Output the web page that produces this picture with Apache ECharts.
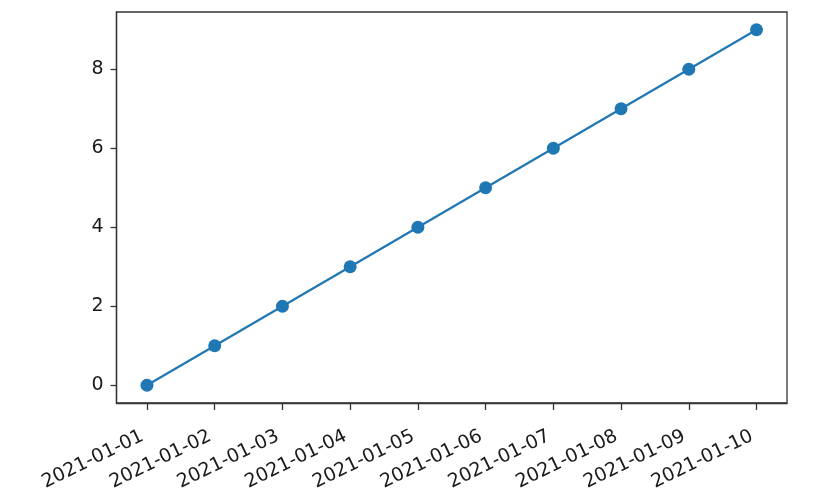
<!DOCTYPE html>
<html>
<head>
<meta charset="utf-8">
<script src="https://cdn.jsdelivr.net/npm/echarts@6/dist/echarts.min.js"></script>
<style>html,body{margin:0;padding:0;background:#fff;}#c{width:818px;height:498px;}</style>
</head>
<body>
<div id="c"></div>
<script>
var categories = ['2021-01-01','2021-01-02','2021-01-03','2021-01-04','2021-01-05','2021-01-06','2021-01-07','2021-01-08','2021-01-09','2021-01-10'];
var values = [0,1,2,3,4,5,6,7,8,9];
var yTicks = [0,2,4,6,8];

var idx = categories.map(function(_, i){ return i; });
var data = values.map(function(v, i){ return [i, v]; });
var font = 'DejaVu Sans';
var chart = echarts.init(document.getElementById('c'), null, {renderer: 'canvas'});
chart.setOption({
  animation: false,
  grid: {left: 116.5, top: 12, right: 31, bottom: 95, show: true, borderColor: '#333', borderWidth: 1.3, backgroundColor: 'transparent'},
  xAxis: {
    type: 'value', min: -0.45, max: 9.45,
    splitLine: {show: false},
    axisLine: {show: true, onZero: false, lineStyle: {color: '#333', width: 1.3}},
    axisTick: {show: true, customValues: idx, length: 7, lineStyle: {color: '#333', width: 1.3}},
    axisLabel: {customValues: idx, rotate: 26, margin: 30, padding: [0, 5, 0, 0], fontFamily: font, fontSize: 19, color: '#1a1a1a',
      formatter: function(v){ return categories[Math.round(v)]; }}
  },
  yAxis: {
    type: 'value', min: -0.45, max: 9.45,
    splitLine: {show: false},
    axisLine: {show: true, onZero: false, lineStyle: {color: '#333', width: 1.3}},
    axisTick: {show: true, customValues: yTicks, length: 6, lineStyle: {color: '#333', width: 1.3}},
    axisLabel: {customValues: yTicks, margin: 13, fontFamily: font, fontSize: 19, color: '#1a1a1a'}
  },
  series: [{
    type: 'line', data: data, symbol: 'circle', symbolSize: 13,
    lineStyle: {color: '#1f77b4', width: 2.2},
    itemStyle: {color: '#1f77b4'}
  }]
});
</script>
</body>
</html>
